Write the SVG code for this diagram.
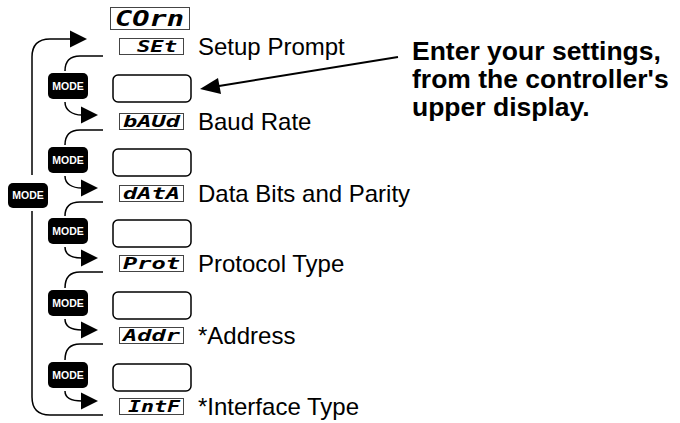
<svg xmlns="http://www.w3.org/2000/svg" width="680" height="423" viewBox="0 0 680 423">
<style>
.bg{fill:#fff}
.seg{fill:#fff;stroke:#444;stroke-width:1}
.segt{font-family:"DejaVu Sans Mono",monospace;font-weight:bold;font-style:italic;font-size:15px;fill:#000}
.lbl{font-family:"Liberation Sans",Arial,sans-serif;font-size:24px;fill:#000}
.blank{fill:#fff;stroke:#000;stroke-width:1.5}
.mode{fill:#000}
.modet{font-family:"Liberation Sans",Arial,sans-serif;font-weight:bold;font-size:10.5px;fill:#fff;text-anchor:middle}
.note{font-family:"Liberation Sans",Arial,sans-serif;font-weight:bold;font-size:26.5px;fill:#000}
.ln{fill:none;stroke:#000;stroke-width:1.5}
.ah{fill:#000}
</style>
<rect class="bg" x="0" y="0" width="680" height="423"/>

<g id="comm">
<rect class="seg" x="110.5" y="7.5" width="79" height="22"/>
<text class="segt" x="115" y="26" textLength="69" lengthAdjust="spacingAndGlyphs" style="font-size:21px">COrn</text>
</g>

<g id="row-set">
<rect class="seg" x="119.5" y="38.5" width="64" height="16"/>
<text class="segt" x="137" y="52" textLength="40" lengthAdjust="spacingAndGlyphs">SEt</text>
<text class="lbl" x="198" y="55">Setup Prompt</text>
</g>
<g id="row-baud">
<rect class="seg" x="119.5" y="113.5" width="64" height="16"/>
<text class="segt" x="123" y="127" textLength="57" lengthAdjust="spacingAndGlyphs">bAUd</text>
<text class="lbl" x="198" y="130">Baud Rate</text>
</g>
<g id="row-data">
<rect class="seg" x="119.5" y="185.5" width="64" height="16"/>
<text class="segt" x="123" y="199" textLength="57" lengthAdjust="spacingAndGlyphs">dAtA</text>
<text class="lbl" x="198" y="202">Data Bits and Parity</text>
</g>
<g id="row-prot">
<rect class="seg" x="119.5" y="255.5" width="64" height="16"/>
<text class="segt" x="123" y="269" textLength="57" lengthAdjust="spacingAndGlyphs">Prot</text>
<text class="lbl" x="198" y="272">Protocol Type</text>
</g>
<g id="row-addr">
<rect class="seg" x="119.5" y="327.5" width="64" height="16"/>
<text class="segt" x="123" y="341" textLength="57" lengthAdjust="spacingAndGlyphs">Addr</text>
<text class="lbl" x="198" y="344">*Address</text>
</g>
<g id="row-intf">
<rect class="seg" x="119.5" y="398.5" width="64" height="16"/>
<text class="segt" x="128" y="412" textLength="52" lengthAdjust="spacingAndGlyphs">IntF</text>
<text class="lbl" x="198" y="415">*Interface Type</text>
</g>

<g id="entry-1"><rect class="blank" x="113" y="75" width="78" height="27" rx="5"/></g>
<g id="entry-2"><rect class="blank" x="113" y="149" width="78" height="27" rx="5"/></g>
<g id="entry-3"><rect class="blank" x="113" y="220" width="78" height="27" rx="5"/></g>
<g id="entry-4"><rect class="blank" x="113" y="292" width="78" height="27" rx="5"/></g>
<g id="entry-5"><rect class="blank" x="113" y="364" width="78" height="27" rx="5"/></g>

<g id="mode-1"><rect class="mode" x="48" y="73" width="40" height="26" rx="5"/><text class="modet" x="68" y="89.5">MODE</text></g>
<g id="mode-2"><rect class="mode" x="48" y="147" width="40" height="26" rx="5"/><text class="modet" x="68" y="163.5">MODE</text></g>
<g id="mode-3"><rect class="mode" x="48" y="218" width="40" height="26" rx="5"/><text class="modet" x="68" y="234.5">MODE</text></g>
<g id="mode-4"><rect class="mode" x="48" y="290" width="40" height="26" rx="5"/><text class="modet" x="68" y="306.5">MODE</text></g>
<g id="mode-5"><rect class="mode" x="48" y="362" width="40" height="26" rx="5"/><text class="modet" x="68" y="378.5">MODE</text></g>
<g id="mode-loop"><rect class="mode" x="8" y="183" width="40" height="25" rx="5"/><text class="modet" x="28" y="199">MODE</text></g>

<g id="note">
<text class="note" x="412" y="60">Enter your settings,</text>
<text class="note" x="412" y="88">from the controller's</text>
<text class="note" x="412" y="116">upper display.</text>
</g>

<g id="connectors">
<path class="ln" d="M103,415 H50 Q32,415 32,397 V211"/>
<path class="ln" d="M32,175 V57 Q32,39 50,39 H72"/>
<polygon class="ah" points="70,30.5 87,39 70,47.5"/>
<path class="ln" d="M103,56 H80 Q65,56 65,71"/>
<path class="ln" d="M65,102 C65,110 72,115 82,115"/>
<polygon class="ah" points="81,106.5 98,115 81,123.5"/>
<path class="ln" d="M103,130 H80 Q65,130 65,145"/>
<path class="ln" d="M65,176 C65,184 72,188 82,188"/>
<polygon class="ah" points="81,179.5 98,188 81,196.5"/>
<path class="ln" d="M103,202 H80 Q65,202 65,216"/>
<path class="ln" d="M65,247 C65,255 72,258 82,258"/>
<polygon class="ah" points="81,249.5 98,258 81,266.5"/>
<path class="ln" d="M103,272 H80 Q65,272 65,288"/>
<path class="ln" d="M65,319 C65,327 72,330 82,330"/>
<polygon class="ah" points="81,321.5 98,330 81,338.5"/>
<path class="ln" d="M103,344 H80 Q65,344 65,360"/>
<path class="ln" d="M65,391 C65,399 72,401 82,401"/>
<polygon class="ah" points="81,392.5 98,401 81,409.5"/>
<line class="ln" x1="398" y1="57" x2="219" y2="86" style="stroke-width:2"/>
<polygon class="ah" points="200,89 221,94 218,78"/>
</g>
</svg>
